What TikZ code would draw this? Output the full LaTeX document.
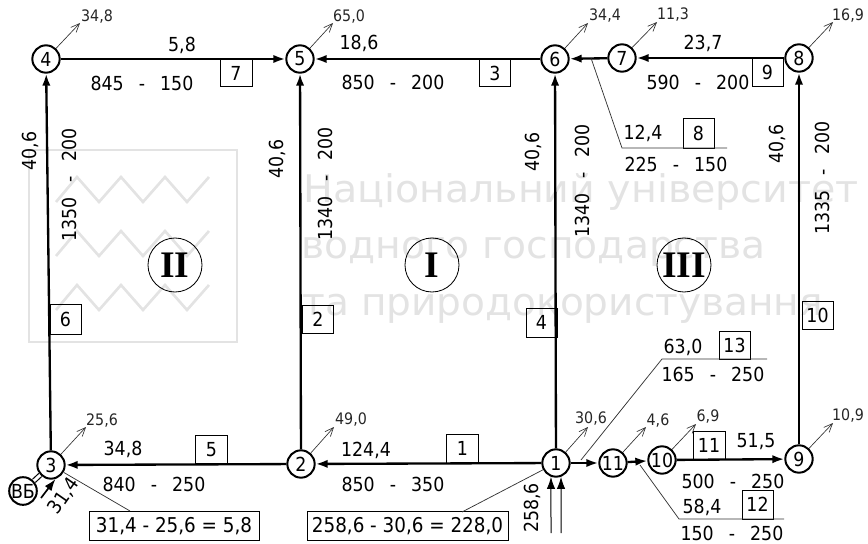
\documentclass[tikz,border=0pt]{standalone}
\usepackage{fontspec}
\setmainfont{DejaVu Sans Condensed}
\newfontfamily\romanfont{Liberation Serif}
\usetikzlibrary{arrows.meta}
\definecolor{markgray}{gray}{0.89}
\newcommand{\dn}{\hspace{0.78em}-\hspace{0.78em}}
\tikzset{
	junction/.style={draw=black, line width=0.6mm, circle, fill=white, inner sep=0pt, minimum size=8.2mm, font=\fontsize{16.5}{18}\selectfont},
	pipe/.style={draw=black, line width=0.7mm},
	flow/.style={pipe, -{Latex[length=3.6mm,width=2.5mm]}},
	feeder/.style={draw=black, line width=0.3mm, -{Latex[length=3.6mm,width=2.5mm]}},
	tag/.style={draw=black, line width=0.3mm, inner sep=0pt, font=\fontsize{16.5}{18}\selectfont},
	sumtag/.style={tag, font=\fontsize{17.4}{19}\selectfont},
	numtext/.style={black, inner sep=0pt, font=\fontsize{16.5}{18}\selectfont},
	demand/.style={black!85, inner sep=0pt, font=\fontsize{13.5}{15}\selectfont},
	takeoff/.style={draw=black!80, line width=0.2mm, -{Straight Barb[length=2.6mm,width=2.2mm]}},
	leader/.style={draw=black!80, line width=0.22mm},
	ring/.style={draw=black, line width=0.25mm, circle, inner sep=0pt, minimum size=16.2mm, font=\romanfont\bfseries\fontsize{32}{34}\selectfont},
	watermark/.style={markgray, anchor=base west, inner sep=0pt, transform shape, font=\fontsize{32.5}{36}\selectfont},
	zigzag/.style={draw=markgray, line width=0.8mm}
}
\begin{document}
\begin{tikzpicture}[x=0.3mm,y=-0.3mm]
	\useasboundingbox (0,0) rectangle (868,544);
	\draw[zigzag] (29,150) rectangle (237,342);
	\draw[zigzag] (56,202) -- (77,177) -- (99,202) -- (121,177) -- (143,202) -- (165,177) -- (187,202) -- (209,177);
	\draw[zigzag] (56,256) -- (77,231) -- (99,256) -- (121,231) -- (143,256) -- (165,231) -- (187,256) -- (209,231);
	\draw[zigzag] (56,310) -- (77,285) -- (99,310) -- (121,285) -- (143,310) -- (165,285) -- (187,310) -- (209,285);
	\node[watermark, xscale=1.155] (wm1) at (303,202) {Національний університет};
	\node[watermark, xscale=1.145] (wm2) at (301,258) {водного господарства};
	\node[watermark, xscale=1.14] (wm3) at (302,315) {та природокористування};

	\node[junction] (n1) at (556,463) {1};
	\node[junction] (n2) at (301,464) {2};
	\node[junction] (n3) at (51,465) {3};
	\node[junction] (n4) at (46,59) {4};
	\node[junction] (n5) at (300,59) {5};
	\node[junction] (n6) at (555,59) {6};
	\node[junction] (n7) at (622,58) {7};
	\node[junction] (n8) at (799,58) {8};
	\node[junction] (n9) at (799,459) {9};
	\node[junction] (n10) at (662,460) {10};
	\node[junction] (n11) at (613,463) {11};
	\node[junction] (vb) at (23,491) {ВБ};

	\draw[flow] (n1) -- (n2);
	\draw[flow] (n2) -- (n3);
	\draw[flow] (n3) -- (n4);
	\draw[flow] (n2) -- (n5);
	\draw[flow] (n1) -- (n6);
	\draw[flow] (n4) -- (n5);
	\draw[flow] (n6) -- (n5);
	\draw[flow] (n7) -- (n6);
	\draw[flow] (n8) -- (n7);
	\draw[flow] (n9) -- (n8);
	\draw[flow] (n1) -- (n11);
	\draw[flow] (n11) -- (n10);
	\draw[flow] (n10) -- (n9);
	\draw[draw=black, line width=0.35mm, double=white, double distance=0.9mm] (vb) -- (n3);

	\coordinate (fa) at (551,533);
	\coordinate (fb) at (561,533);
	\coordinate (fc) at (41,498);
	\draw[feeder] (fa) -- (n1.-110);
	\draw[feeder] (fb) -- (n1.-70);
	\draw[feeder, line width=0.5mm] (fc) -- (n3.-72);

	\coordinate (d1) at (588,427);
	\coordinate (d2) at (334,427);
	\coordinate (d3) at (86,427);
	\coordinate (d4) at (80,23);
	\coordinate (d5) at (333,23);
	\coordinate (d6) at (588,23);
	\coordinate (d7) at (657,22);
	\coordinate (d8) at (833,22);
	\coordinate (d9) at (833,423);
	\coordinate (d10) at (696,424);
	\coordinate (d11) at (646,427);
	\draw[takeoff] (n1) -- (d1);
	\draw[takeoff] (n2) -- (d2);
	\draw[takeoff] (n3) -- (d3);
	\draw[takeoff] (n4) -- (d4);
	\draw[takeoff] (n5) -- (d5);
	\draw[takeoff] (n6) -- (d6);
	\draw[takeoff] (n7) -- (d7);
	\draw[takeoff] (n8) -- (d8);
	\draw[takeoff] (n9) -- (d9);
	\draw[takeoff] (n10) -- (d10);
	\draw[takeoff] (n11) -- (d11);
	\node[demand] (q1) at (591,419) {30,6};
	\node[demand] (q2) at (351,420) {49,0};
	\node[demand] (q3) at (102,421) {25,6};
	\node[demand] (q4) at (97,17) {34,8};
	\node[demand] (q5) at (349,17) {65,0};
	\node[demand] (q6) at (605,16) {34,4};
	\node[demand] (q7) at (673,15) {11,3};
	\node[demand] (q8) at (848,16) {16,9};
	\node[demand] (q9) at (848,416) {10,9};
	\node[demand] (q10) at (708,417) {6,9};
	\node[demand] (q11) at (658,421) {4,6};

	\node[tag, minimum width=9.5mm, minimum height=8.7mm] (b1) at (462.5,448.5) {1};
	\node[tag, minimum width=9.2mm, minimum height=8.2mm] (b2) at (318,319.5) {2};
	\node[tag, minimum width=9.5mm, minimum height=8.4mm] (b3) at (495,73) {3};
	\node[tag, minimum width=9.3mm, minimum height=8.7mm] (b4) at (541.5,322.5) {4};
	\node[tag, minimum width=9.5mm, minimum height=8.2mm] (b5) at (211.5,449.5) {5};
	\node[tag, minimum width=9.3mm, minimum height=9mm] (b6) at (65.5,319) {6};
	\node[tag, minimum width=9.6mm, minimum height=8.4mm] (b7) at (236,73) {7};
	\node[tag, minimum width=9.3mm, minimum height=8.7mm] (b8) at (698.5,133.5) {8};
	\node[tag, minimum width=9.3mm, minimum height=8.7mm] (b9) at (767.5,72.5) {9};
	\node[tag, minimum width=9.3mm, minimum height=8.4mm] (b10) at (817.5,315) {10};
	\node[tag, minimum width=9.6mm, minimum height=8.4mm] (b11) at (709,445) {11};
	\node[tag, minimum width=9.3mm, minimum height=8.7mm] (b12) at (757.5,504.5) {12};
	\node[tag, minimum width=9.3mm, minimum height=8.4mm] (b13) at (734.5,345) {13};

	\node[numtext] (f1) at (366,450) {124,4};
	\node[numtext] (f3) at (359,43) {18,6};
	\node[numtext] (f5) at (123,449) {34,8};
	\node[numtext] (f7) at (182,45) {5,8};
	\node[numtext] (f8) at (643,133) {12,4};
	\node[numtext] (f9) at (703,43) {23,7};
	\node[numtext] (f11) at (756,442) {51,5};
	\node[numtext] (f12) at (702,507) {58,4};
	\node[numtext] (f13) at (683,347) {63,0};
	\node[numtext, rotate=90] (f2) at (277,159) {40,6};
	\node[numtext, rotate=90] (f4) at (533,152) {40,6};
	\node[numtext, rotate=90] (f6) at (30,151) {40,6};
	\node[numtext, rotate=90] (f10) at (777,144) {40,6};
	\node[numtext, rotate=90] (fin1) at (532,508) {258,6};
	\node[numtext, rotate=55] (fin3) at (64,496) {31,4};

	\node[numtext] (s1) at (393,484) {850\dn 350};
	\node[numtext] (s3) at (393,82) {850\dn 200};
	\node[numtext] (s5) at (154,484) {840\dn 250};
	\node[numtext] (s7) at (142,83) {845\dn 150};
	\node[numtext] (s8) at (676,164) {225\dn 150};
	\node[numtext] (s9) at (698,82) {590\dn 200};
	\node[numtext] (s11) at (733,481) {500\dn 250};
	\node[numtext] (s12) at (732,533) {150\dn 250};
	\node[numtext] (s13) at (713,374) {165\dn 250};
	\node[numtext, rotate=90] (s2) at (325,184) {1340\dn 200};
	\node[numtext, rotate=90] (s4) at (582,181) {1340\dn 200};
	\node[numtext, rotate=90] (s6) at (69,185) {1350\dn 200};
	\node[numtext, rotate=90] (s10) at (822,178) {1335\dn 200};

	\node[sumtag, minimum width=51mm, minimum height=8.9mm] (sum3) at (174,526) {31,4 - 25,6 = 5,8};
	\node[sumtag, minimum width=60.3mm, minimum height=8.6mm] (sum1) at (407.5,526) {258,6 - 30,6 = 228,0};
	\coordinate (l3) at (130,511);
	\coordinate (l1) at (462,512);
	\draw[leader] (n3) -- (l3);
	\draw[leader] (n1) -- (l1);

	\coordinate (a8) at (591,58);
	\coordinate (c8) at (622,148);
	\coordinate (e8) at (727,148);
	\draw[leader] (a8) -- (c8) -- (e8);
	\coordinate (a12) at (640,465);
	\coordinate (c12) at (679,519);
	\coordinate (e12) at (784,519);
	\draw[leader] (a12) -- (c12) -- (e12);
	\coordinate (a13) at (581,460);
	\coordinate (c13) at (662,359);
	\coordinate (e13) at (767,359);
	\draw[leader] (a13) -- (c13) -- (e13);

	\node[ring] (loop1) at (432,265) {I};
	\node[ring] (loop2) at (175,265) {II};
	\node[ring] (loop3) at (684,265) {III};
\end{tikzpicture}
\end{document}
